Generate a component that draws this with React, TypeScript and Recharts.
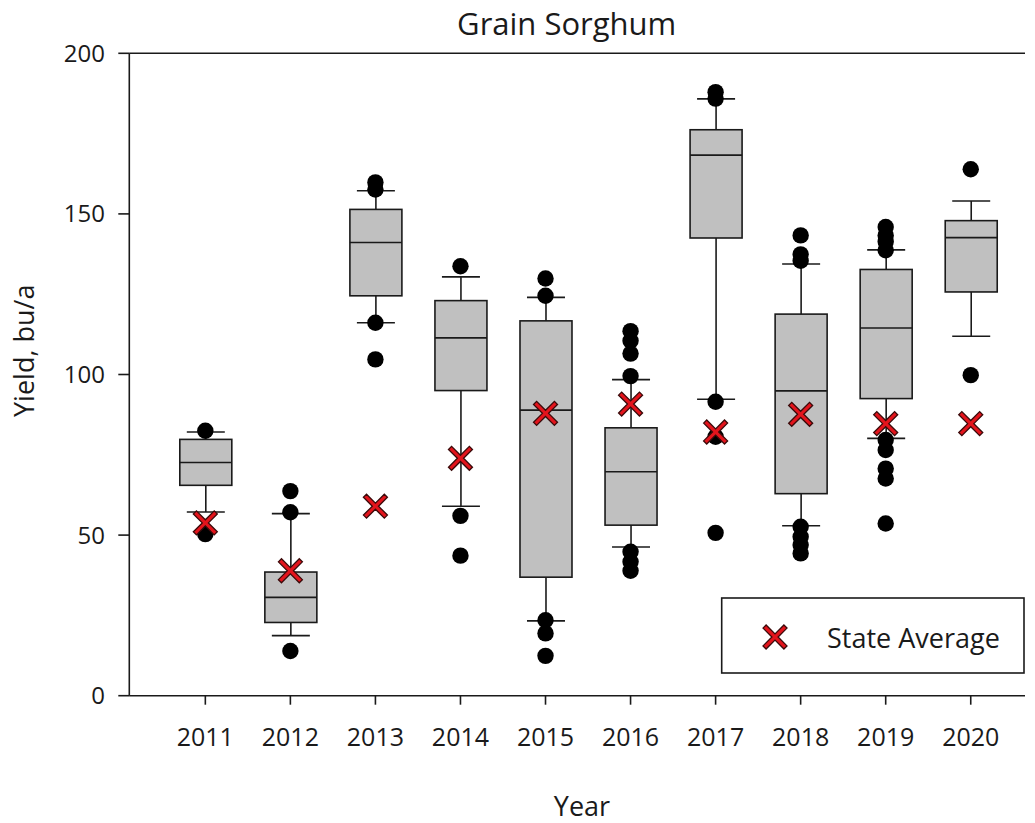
import React from 'react';
import { ComposedChart, Bar, Scatter, XAxis, YAxis, ReferenceLine } from 'recharts';

const years = [2011, 2012, 2013, 2014, 2015, 2016, 2017, 2018, 2019, 2020];
const whiskerLow = [57.2, 18.7, 116.1, 59.0, 23.3, 46.3, 92.3, 52.9, 80.1, 111.9];
const q1 = [65.5, 22.8, 124.5, 95.0, 36.9, 53.1, 142.5, 62.9, 92.5, 125.7];
const median = [72.6, 30.6, 141.1, 111.4, 88.9, 69.7, 168.3, 94.9, 114.5, 142.6];
const q3 = [79.8, 38.5, 151.4, 123.0, 116.7, 83.4, 176.2, 118.8, 132.7, 147.9];
const whiskerHigh = [82.1, 56.7, 157.2, 130.4, 124.0, 98.4, 185.8, 134.4, 138.8, 154.0];
const stateAvg = [53.8, 38.9, 59.0, 73.9, 87.9, 90.8, 82.1, 87.6, 84.7, 84.7];
const outliers = [
  [82.5, 50.3],
  [63.7, 57.1, 13.9],
  [159.8, 157.6, 116.1, 104.7],
  [133.7, 56.0, 43.6],
  [129.9, 124.5, 23.5, 19.4, 12.4],
  [113.5, 110.5, 106.5, 99.5, 44.8, 41.7, 38.9],
  [187.9, 185.9, 91.5, 80.6, 50.7],
  [143.3, 137.4, 135.4, 52.6, 49.5, 46.9, 44.3],
  [145.9, 143.3, 141.3, 138.7, 79.6, 76.5, 70.7, 67.6, 53.6],
  [163.9, 99.8],
];
const yTicks = [0, 50, 100, 150, 200];

const boxData = years.map((year, i) => ({
  year,
  whisker: [whiskerLow[i], whiskerHigh[i]],
  low: whiskerLow[i],
  q1: q1[i],
  median: median[i],
  q3: q3[i],
  high: whiskerHigh[i],
}));
const outlierData = years.flatMap((year, i) => outliers[i].map((value) => ({ year, value })));
const avgData = years.map((year, i) => ({ year, value: stateAvg[i] }));

const INK = '#1a1a1a';
const FONT = "'Open Sans', sans-serif";

const BoxShape = (props: any) => {
  const { x, y, width, height, payload } = props;
  if (payload == null) return null;
  const { low, high } = payload;
  const k = height / (high - low);
  const py = (v: number) => y + (high - v) * k;
  const cx = x + width / 2;
  const capHalf = 19;
  return (
    <g>
      <line x1={cx} x2={cx} y1={py(high)} y2={py(low)} stroke={INK} strokeWidth={1.6} />
      <line x1={cx - capHalf} x2={cx + capHalf} y1={py(high)} y2={py(high)} stroke={INK} strokeWidth={1.6} />
      <line x1={cx - capHalf} x2={cx + capHalf} y1={py(low)} y2={py(low)} stroke={INK} strokeWidth={1.6} />
      <rect x={x} y={py(payload.q3)} width={width} height={py(payload.q1) - py(payload.q3)} fill="#c0c0c0" stroke={INK} strokeWidth={1.6} />
      <line x1={x} x2={x + width} y1={py(payload.median)} y2={py(payload.median)} stroke={INK} strokeWidth={1.6} />
    </g>
  );
};

const Dot = (props: any) => <circle cx={props.cx} cy={props.cy} r={8.2} fill="#000" />;

const xPath = (cx: number, cy: number) => {
  const s = 12;
  const w = 3.1;
  const pts = [
    [-s, -s + w], [-s + w, -s], [0, -w], [s - w, -s], [s, -s + w], [w, 0],
    [s, s - w], [s - w, s], [0, w], [-s + w, s], [-s, s - w], [-w, 0],
  ];
  return pts.map((p) => `${cx + p[0]},${cy + p[1]}`).join(' ');
};

const XMark = (props: any) => (
  <polygon points={xPath(props.cx, props.cy)} fill="#e3141c" stroke="#3a0a0a" strokeWidth={1.3} strokeLinejoin="miter" />
);

export default function App() {
  return (
    <div style={{ position: 'relative', width: 1027, height: 815 }}>
      <ComposedChart
        width={1027}
        height={815}
        data={boxData}
        margin={{ top: 45.3, right: 10, left: 61.3, bottom: 67.3 }}
      >
        <XAxis
          dataKey="year"
          type="number"
          domain={[2010.106, 2020.638]}
          ticks={years}
          allowDataOverflow
          height={60}
          tickSize={9}
          tickMargin={23.6}
          interval={0}
          axisLine={{ stroke: INK, strokeWidth: 1.6 }}
          tickLine={{ stroke: INK, strokeWidth: 1.6 }}
          tick={{ fontSize: 25, fill: INK, fontFamily: FONT }}
        />
        <YAxis
          type="number"
          domain={[0, 200]}
          ticks={yTicks}
          width={60}
          tickSize={11}
          tickMargin={13.3}
          interval={0}
          axisLine={{ stroke: INK, strokeWidth: 1.6 }}
          tickLine={{ stroke: INK, strokeWidth: 1.6 }}
          tick={{ fontSize: 24, fill: INK, fontFamily: FONT }}
        />
        <ReferenceLine y={200} stroke={INK} strokeWidth={1.6} />
        <Bar dataKey="whisker" barSize={52} shape={BoxShape} isAnimationActive={false} />
        <Scatter data={outlierData} dataKey="value" shape={Dot} isAnimationActive={false} />
        <Scatter data={avgData} dataKey="value" shape={XMark} isAnimationActive={false} />
      </ComposedChart>
      <svg
        width={1035}
        height={823}
        viewBox="0 0 1035 823"
        style={{ position: 'absolute', left: -8, top: -8, pointerEvents: 'none', overflow: 'visible' }}
      >
        <text x={566.7} y={35} textAnchor="middle" fontSize={31} fontFamily={FONT} fill={INK}>
          Grain Sorghum
        </text>
        <text x={34} y={417} transform="rotate(-90 34 417)" textAnchor="start" fontSize={27} fontFamily={FONT} fill={INK}>
          Yield, bu/a
        </text>
        <text x={582} y={816} textAnchor="middle" fontSize={27} fontFamily={FONT} fill={INK}>
          Year
        </text>
        <rect x={721.7} y={598} width={302.3} height={75} fill="#fff" stroke={INK} strokeWidth={1.6} />
        <XMark cx={775} cy={637} />
        <text x={827} y={648.3} fontSize={27} fontFamily={FONT} fill={INK}>
          State Average
        </text>
      </svg>
    </div>
  );
}
